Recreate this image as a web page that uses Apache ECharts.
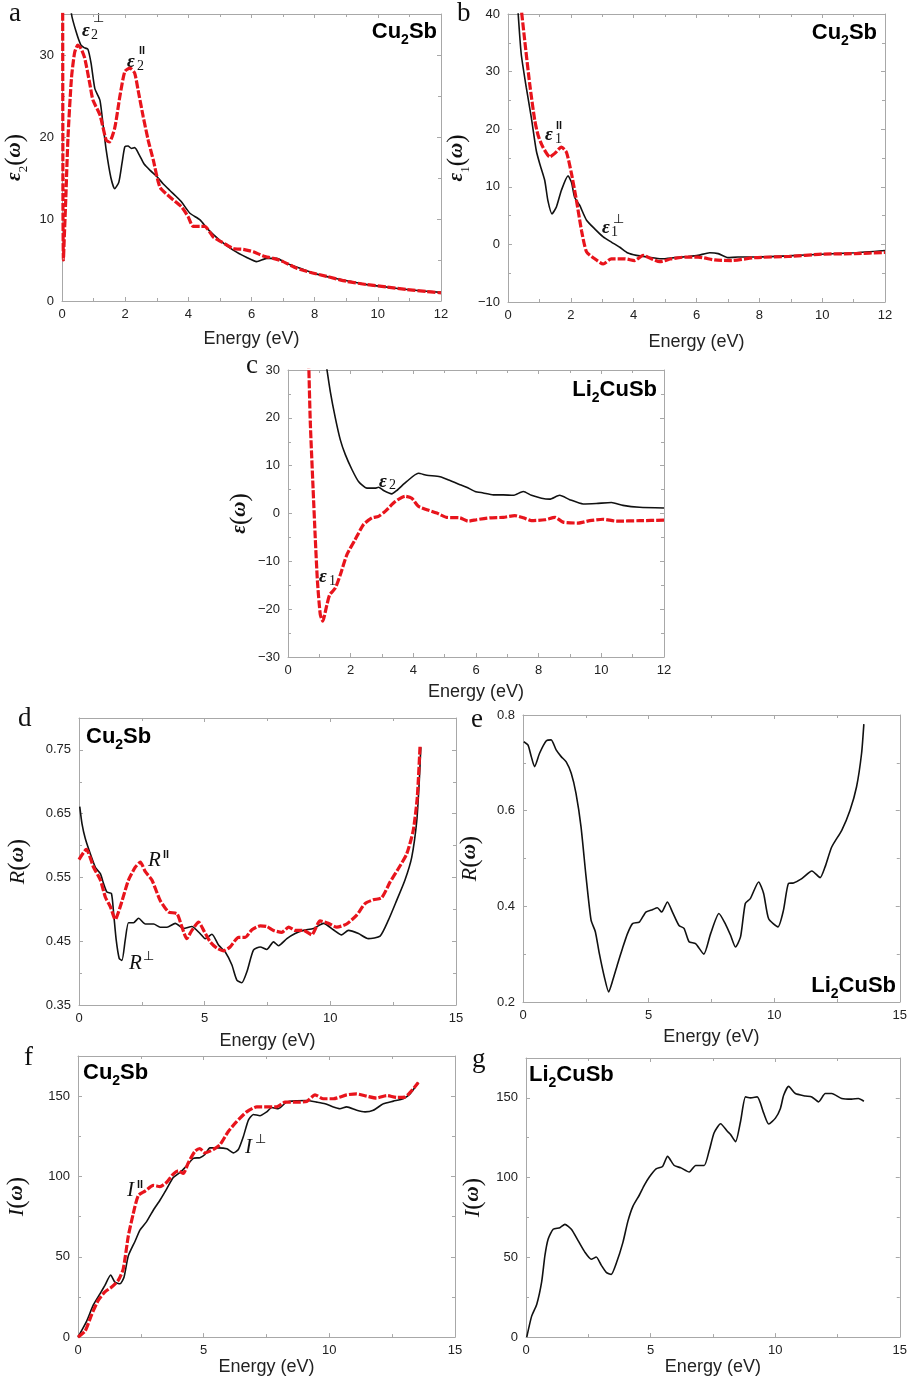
<!doctype html>
<meta charset="utf-8">
<style>
  html, body { margin: 0; background: #fff; }
  #chart { width: 910px; height: 1377px; }
</style>
<script src="https://cdn.jsdelivr.net/npm/echarts@6/dist/echarts.min.js"></script>
<div id="chart"></div>
<script>
  // [energy (eV), value]
  const eps2Perp = [[0.22,40],[0.3,35],[0.45,32.8],[0.6,31.2],[0.7,30.9],[0.82,30.7],[0.92,29],[1.04,25.9],[1.2,24.5],[1.3,21.5],[1.4,18.4],[1.55,15],[1.67,13.7],[1.8,14.5],[1.9,16.8],[1.99,18.8],[2.09,18.9],[2.2,18.6],[2.3,18.7],[2.45,17.8],[2.6,16.7],[2.8,15.9],[3.0,15.2],[3.2,14.3],[3.41,13.5],[3.6,12.8],[3.78,12.1],[4.05,10.7],[4.37,9.9],[4.63,8.7],[5.0,7.4],[5.42,6.2],[5.85,5.3],[6.16,4.8],[6.48,5.2],[6.8,5.2],[7.1,4.6],[7.54,4.0],[7.96,3.4],[8.6,2.8],[9.12,2.4],[9.65,2.0],[10.18,1.75],[10.7,1.5],[11.34,1.25],[12,1.05]]
  const eps2Par = [[0.02,40],[0.03,12],[0.045,5],[0.07,7.5],[0.12,12.5],[0.19,20],[0.3,27.2],[0.4,30.3],[0.5,31.2],[0.6,30.8],[0.72,29.6],[0.88,26.5],[0.98,24.5],[1.2,22.7],[1.4,19.6],[1.5,19.4],[1.67,21.1],[1.83,24.9],[1.99,28],[2.15,28.4],[2.3,27.8],[2.41,25.7],[2.57,22.5],[2.73,19.6],[2.89,17.2],[3.1,13.9],[3.41,12.7],[3.78,11.5],[3.99,10.3],[4.15,9.1],[4.37,9.1],[4.52,9.1],[4.79,7.8],[5.05,7.2],[5.42,6.4],[5.74,6.3],[6.06,6.0],[6.37,5.5],[6.69,5.2],[7.0,4.8],[7.43,4.0],[7.85,3.5],[8.38,3.0],[9.0,2.4],[9.65,2.0],[10.29,1.7],[10.92,1.4],[11.55,1.15],[12,1.0]]

  const eps1Perp = [[0.3,42],[0.42,33.1],[0.58,27.3],[0.74,22.1],[0.9,16.3],[1.01,14.0],[1.17,11.1],[1.27,7.6],[1.4,5.3],[1.54,6.5],[1.7,9.4],[1.91,11.9],[2.02,10.8],[2.12,8.2],[2.28,6.8],[2.5,4.2],[2.76,2.7],[3.03,1.3],[3.29,0.4],[3.56,-0.5],[3.82,-1.5],[4.09,-1.9],[4.46,-2.2],[4.88,-2.5],[5.31,-2.3],[5.73,-2.1],[6.05,-1.9],[6.42,-1.45],[6.69,-1.6],[7.0,-2.3],[7.32,-2.2],[7.86,-2.2],[8.92,-2.0],[9.98,-1.7],[11.04,-1.45],[12,-1.05]]
  const eps1Par = [[0.4,42],[0.53,35.5],[0.69,27.9],[0.85,21.6],[0.96,18.9],[1.11,16.9],[1.33,15.2],[1.49,15.8],[1.7,16.9],[1.86,16.0],[2.02,12.3],[2.18,7.6],[2.34,2.4],[2.5,-1.3],[2.76,-2.5],[3.03,-3.4],[3.29,-2.5],[3.72,-2.5],[4.03,-2.8],[4.3,-1.9],[4.56,-2.5],[4.83,-3.0],[5.2,-2.5],[5.63,-2.2],[6.05,-2.2],[6.58,-2.7],[7.11,-2.8],[7.86,-2.3],[8.92,-2.1],[9.98,-1.7],[11.04,-1.6],[12,-1.4]]

  const liEps2 = [[1.2,32],[1.35,25.5],[1.51,20.0],[1.67,15.4],[1.83,12.3],[2.04,9.2],[2.25,6.7],[2.52,5.3],[2.78,5.3],[2.89,5.5],[3.05,4.8],[3.31,4.1],[3.47,4.8],[3.79,6.7],[4.16,8.4],[4.43,8.0],[4.85,7.7],[5.17,6.9],[5.49,6.0],[5.7,5.5],[5.97,4.6],[6.23,4.3],[6.55,3.9],[6.87,3.9],[7.19,3.8],[7.51,4.6],[7.77,3.8],[8.09,3.2],[8.35,3.0],[8.67,3.8],[8.99,2.9],[9.42,2.0],[9.84,2.1],[10.32,2.3],[10.69,1.7],[11.22,1.3],[12,1.15]]
  const liEps1 = [[0.66,32],[0.71,19.3],[0.8,5.3],[0.87,-5.1],[0.94,-14.2],[1.03,-21.1],[1.11,-22.5],[1.22,-19.7],[1.33,-17.0],[1.51,-15.6],[1.67,-12.8],[1.88,-8.6],[2.14,-5.5],[2.41,-2.3],[2.68,-0.9],[2.89,-0.6],[3.1,0.45],[3.42,2.5],[3.74,3.6],[3.95,3.2],[4.16,1.5],[4.43,0.8],[4.75,0.1],[5.06,-0.8],[5.49,-0.9],[5.75,-1.6],[6.02,-1.3],[6.44,-0.9],[6.87,-0.8],[7.24,-0.45],[7.51,-0.9],[7.77,-1.5],[8.2,-1.3],[8.52,-0.8],[8.78,-1.8],[9.26,-2.0],[9.63,-1.5],[10.05,-1.2],[10.48,-1.6],[11.22,-1.5],[12,-1.4]]

  const reflPerp = [[0.03,0.661],[0.12,0.634],[0.25,0.611],[0.45,0.587],[0.65,0.566],[0.85,0.556],[0.98,0.540],[1.11,0.527],[1.29,0.525],[1.38,0.493],[1.48,0.452],[1.6,0.423],[1.71,0.420],[1.84,0.452],[1.97,0.479],[2.17,0.479],[2.37,0.486],[2.64,0.477],[2.97,0.477],[3.23,0.472],[3.5,0.472],[3.83,0.478],[4.16,0.470],[4.49,0.473],[4.82,0.462],[5.02,0.454],[5.29,0.461],[5.55,0.444],[5.82,0.433],[6.08,0.413],[6.28,0.389],[6.48,0.385],[6.68,0.402],[6.94,0.436],[7.21,0.441],[7.47,0.437],[7.74,0.449],[7.94,0.443],[8.27,0.454],[8.6,0.462],[8.93,0.467],[9.33,0.470],[9.73,0.478],[10.12,0.468],[10.45,0.460],[10.72,0.467],[11.12,0.462],[11.51,0.454],[11.98,0.458],[12.31,0.483],[12.64,0.514],[12.97,0.546],[13.24,0.582],[13.44,0.639],[13.54,0.702],[13.6,0.754]]
  const reflPar = [[0,0.578],[0.29,0.594],[0.58,0.566],[0.85,0.546],[1.05,0.519],[1.25,0.504],[1.44,0.484],[1.64,0.504],[1.97,0.546],[2.24,0.566],[2.44,0.574],[2.64,0.559],[2.9,0.546],[3.23,0.514],[3.56,0.496],[3.9,0.493],[4.09,0.473],[4.29,0.454],[4.49,0.467],[4.76,0.480],[4.96,0.467],[5.22,0.449],[5.49,0.439],[5.75,0.435],[6.01,0.441],[6.35,0.456],[6.61,0.456],[6.88,0.468],[7.21,0.474],[7.47,0.473],[7.74,0.467],[8.07,0.464],[8.34,0.472],[8.6,0.467],[8.93,0.467],[9.26,0.460],[9.59,0.482],[9.92,0.478],[10.26,0.472],[10.65,0.477],[11.05,0.491],[11.38,0.509],[11.71,0.515],[12.04,0.518],[12.38,0.543],[12.71,0.564],[13.04,0.587],[13.3,0.624],[13.46,0.676],[13.57,0.757]]

  const liRefl = [[0.03,0.744],[0.2,0.737],[0.33,0.713],[0.46,0.692],[0.66,0.720],[0.93,0.746],[1.12,0.748],[1.32,0.727],[1.52,0.713],[1.72,0.702],[1.92,0.678],[2.11,0.636],[2.31,0.566],[2.51,0.462],[2.71,0.371],[2.88,0.347],[3.04,0.301],[3.24,0.252],[3.41,0.221],[3.57,0.245],[3.77,0.280],[3.96,0.312],[4.16,0.343],[4.36,0.364],[4.63,0.367],[4.89,0.388],[5.15,0.393],[5.35,0.397],[5.52,0.388],[5.75,0.409],[5.95,0.388],[6.21,0.360],[6.41,0.354],[6.61,0.326],[6.87,0.322],[7.2,0.300],[7.47,0.343],[7.8,0.385],[8.06,0.363],[8.26,0.340],[8.46,0.315],[8.66,0.336],[8.85,0.406],[9.05,0.416],[9.38,0.451],[9.58,0.427],[9.78,0.374],[10.15,0.357],[10.37,0.392],[10.57,0.448],[10.77,0.449],[11.1,0.458],[11.5,0.474],[11.83,0.460],[12.03,0.483],[12.29,0.524],[12.69,0.559],[13.02,0.601],[13.28,0.650],[13.48,0.720],[13.57,0.781]]

  const lossPerp = [[0,0],[0.34,9.8],[0.61,20.0],[0.88,27.1],[1.07,32.2],[1.3,38.7],[1.47,34.2],[1.67,33.2],[1.83,37.3],[2.0,50.5],[2.27,59.7],[2.47,66.8],[2.73,71.9],[3.0,79.1],[3.26,85.2],[3.53,92.3],[3.79,99.4],[4.06,102.5],[4.32,106.6],[4.59,111.3],[4.85,111.7],[5.05,113.7],[5.25,117.8],[5.58,117.8],[5.92,117.2],[6.18,114.7],[6.38,116.8],[6.58,124.9],[6.78,135.1],[6.98,138.6],[7.24,137.8],[7.51,140.2],[7.71,142.9],[7.97,142.2],[8.3,146.3],[8.7,147.1],[9.1,147.3],[9.5,146.3],[9.83,145.3],[10.16,143.3],[10.42,142.2],[10.69,143.3],[11.09,141.2],[11.42,140.2],[11.75,141.2],[12.15,145.3],[12.55,146.9],[12.94,148.4],[13.21,151.4],[13.54,158.5]]
  const lossPar = [[0,0],[0.28,3.7],[0.54,13.9],[0.81,23.0],[1.07,28.1],[1.34,31.2],[1.6,35.3],[1.8,42.4],[2.0,62.8],[2.2,77.0],[2.4,88.2],[2.67,90.9],[3.0,94.4],[3.26,93.7],[3.53,96.4],[3.79,101.5],[3.99,103.5],[4.19,101.9],[4.39,108.6],[4.66,115.8],[4.85,117.4],[5.05,114.7],[5.38,116.8],[5.65,119.8],[5.98,128.0],[6.31,134.1],[6.71,140.2],[7.11,143.3],[7.51,143.3],[7.9,143.3],[8.24,146.3],[8.7,146.3],[9.1,146.7],[9.43,150.8],[9.76,148.4],[10.16,148.4],[10.69,150.8],[11.09,151.4],[11.49,150.0],[11.88,148.8],[12.28,150.4],[12.68,149.2],[13.01,149.4],[13.28,153.5],[13.54,158.5]]

  const liLoss = [[0.03,0],[0.23,13.3],[0.43,20.5],[0.63,34.8],[0.76,51.2],[0.89,61.5],[1.09,67.6],[1.36,68.6],[1.56,70.7],[1.82,67.6],[2.09,60.5],[2.36,53.3],[2.62,48.8],[2.82,50.2],[3.02,45.1],[3.22,40.6],[3.42,39.3],[3.62,46.1],[3.89,59.4],[4.09,72.7],[4.29,82.0],[4.55,89.1],[4.75,95.3],[4.95,100.4],[5.22,105.5],[5.48,107.0],[5.68,113.3],[5.95,107.6],[6.22,106.1],[6.55,103.5],[6.81,107.6],[7.15,107.6],[7.35,116.8],[7.55,128.1],[7.81,133.8],[8.08,129.1],[8.21,127.0],[8.41,122.5],[8.61,135.2],[8.81,150.6],[9.01,150.0],[9.28,150.6],[9.54,140.4],[9.74,133.6],[10.01,137.3],[10.21,143.4],[10.34,151.6],[10.54,157.2],[10.81,152.7],[11.21,151.2],[11.47,150.6],[11.74,147.5],[12.01,152.7],[12.27,152.7],[12.67,149.6],[13.07,149.2],[13.34,149.6],[13.56,147.9]]

  const SANS = 'Liberation Sans'
  const SERIF = 'Liberation Serif'
  const RED = '#e8141c'
  const FRAME = '#a8a8a8'

  const panels = [
    { grid: { left: 62, top: 14, width: 379, height: 287 }, x: [0, 12, 2], y: [0, 35, 10], xGap: 29, yGap: 32,
      yName: '{g|ε}{s|2}{p|(}{g|ω}{p|)}', black: eps2Perp, red: eps2Par },
    { grid: { left: 508, top: 14, width: 377, height: 288 }, x: [0, 12, 2], y: [-10, 40, 10], xGap: 31, yGap: 36,
      yName: '{g|ε}{s|1}{p|(}{g|ω}{p|)}', black: eps1Perp, red: eps1Par },
    { grid: { left: 288, top: 370, width: 376, height: 287 }, x: [0, 12, 2], y: [-30, 30, 10], xGap: 26, yGap: 33,
      yName: '{g|ε}{p|(}{g|ω}{p|)}', black: liEps2, red: liEps1 },
    { grid: { left: 79, top: 718, width: 377, height: 287 }, x: [0, 15, 5], y: [0.35, 0.8, 0.1], xGap: 27, yGap: 46,
      yName: '{r|R}{p|(}{g|ω}{p|)}', black: reflPerp, red: reflPar, fmt: v => v.toFixed(2) },
    { grid: { left: 523, top: 715, width: 379, height: 287 }, x: [0, 15, 5], y: [0.2, 0.8, 0.2], xGap: 26, yGap: 38,
      yName: '{r|R}{p|(}{g|ω}{p|)}', black: liRefl, fmt: v => v.toFixed(1) },
    { grid: { left: 78, top: 1056, width: 377, height: 287 }, x: [0, 15, 5], y: [0, 175, 50], xGap: 20, yGap: 46,
      yName: '{r|I}{p|(}{g|ω}{p|)}', black: lossPerp, red: lossPar },
    { grid: { left: 526, top: 1058, width: 376, height: 285 }, x: [0, 15, 5], y: [0, 175, 50], xGap: 19, yGap: 38,
      yName: '{r|I}{p|(}{g|ω}{p|)}', black: liLoss },
  ]

  const nameRich = {
    g: { fontFamily: SERIF, fontStyle: 'italic', fontWeight: 'bold', fontSize: 21, lineHeight: 30, color: '#111' },
    r: { fontFamily: SERIF, fontStyle: 'italic', fontSize: 22, lineHeight: 30, color: '#111' },
    s: { fontFamily: SERIF, fontSize: 13, lineHeight: 13, verticalAlign: 'bottom', color: '#111' },
    p: { fontFamily: SERIF, fontSize: 25, lineHeight: 30, color: '#111' },
  }

  function frameAxis(gridIndex, range, position, extra) {
    return Object.assign({
      type: 'value', gridIndex, position, min: range[0], max: range[1], interval: range[2],
      axisLine: { show: true, onZero: false, lineStyle: { color: FRAME, width: 1 } },
      axisTick: { show: true, inside: true, length: 4, lineStyle: { color: FRAME } },
      minorTick: { show: true, splitNumber: 2, length: 3, lineStyle: { color: FRAME } },
      axisLabel: { show: false },
      splitLine: { show: false },
    }, extra)
  }

  // label only the ticks that sit on min + k*interval, with a real minus sign
  function tickLabel(range, fmt) {
    return v => {
      const k = (v - range[0]) / range[2]
      if (Math.abs(k - Math.round(k)) > 1e-6) return ''
      return (fmt ? fmt(v) : String(v)).replace('-', '\u2212')
    }
  }

  const xAxis = [], yAxis = [], series = []
  panels.forEach((p, i) => {
    xAxis.push(frameAxis(i, p.x, 'bottom', {
      name: 'Energy (eV)', nameLocation: 'middle', nameGap: p.xGap,
      nameTextStyle: { fontFamily: SANS, fontSize: 18, color: '#222' },
      axisLabel: { show: true, margin: 7, fontFamily: SANS, fontSize: 13, color: '#222' },
    }))
    xAxis.push(frameAxis(i, p.x, 'top'))
    yAxis.push(frameAxis(i, p.y, 'left', {
      name: p.yName, nameLocation: 'middle', nameGap: p.yGap, nameRotate: 90,
      nameTextStyle: { rich: nameRich },
      axisLabel: { show: true, margin: 8, fontFamily: SANS, fontSize: 13, color: '#222',
        showMaxLabel: true, formatter: tickLabel(p.y, p.fmt) },
    }))
    yAxis.push(frameAxis(i, p.y, 'right'))
    series.push({
      type: 'line', xAxisIndex: 2 * i, yAxisIndex: 2 * i, data: p.black, showSymbol: false, smooth: 0.2,
      lineStyle: { color: '#111', width: 1.6 }, silent: true,
    })
    if (p.red) series.push({
      type: 'line', xAxisIndex: 2 * i, yAxisIndex: 2 * i, data: p.red, showSymbol: false, smooth: 0.2,
      lineStyle: { color: RED, width: 3.2, type: [8, 2] }, silent: true,
    })
  })

  // text placed on the figure
  const graphic = []
  function txt(x, y, text, font, align) {
    graphic.push({ type: 'text', x, y, silent: true,
      style: { text, font, fill: '#111', align: align || 'left', textAlign: align || 'left', verticalAlign: 'middle', textVerticalAlign: 'middle' } })
  }
  const compRich = {
    b: { fontFamily: SANS, fontWeight: 'bold', fontSize: 22, lineHeight: 30, color: '#111' },
    s: { fontFamily: SANS, fontWeight: 'bold', fontSize: 14, lineHeight: 14, verticalAlign: 'bottom', color: '#111' },
  }
  function compound(x, y, text, align) {
    graphic.push({ type: 'text', x, y, silent: true,
      style: { text, rich: compRich, align, textAlign: align, verticalAlign: 'middle', textVerticalAlign: 'middle' } })
  }
  const CU2SB = '{b|Cu}{s|2}{b|Sb}'
  const LI2CUSB = '{b|Li}{s|2}{b|CuSb}'
  compound(437, 32, CU2SB, 'right')
  compound(877, 33, CU2SB, 'right')
  compound(657, 390, LI2CUSB, 'right')
  compound(86, 737, CU2SB, 'left')
  compound(896, 986, LI2CUSB, 'right')
  compound(83, 1073, CU2SB, 'left')
  compound(529, 1075, LI2CUSB, 'left')

  const LET = '27px ' + SERIF
  txt(9, 14, 'a', LET); txt(457, 14, 'b', LET); txt(246, 366, 'c', LET)
  txt(18, 719, 'd', LET); txt(471, 720, 'e', LET); txt(24, 1058, 'f', LET); txt(472, 1060, 'g', LET)

  // curve labels: main glyph, subscript, superscript
  const EPS = 'italic bold 19px ' + SERIF
  const ITAL = 'italic 21px ' + SERIF
  const SUB = '14px ' + SERIF
  const PERP = '13px DejaVu Sans'
  const PAR = 'bold 11px ' + SANS
  txt(82, 31, 'ε', EPS); txt(91, 35, '2', SUB); txt(93, 19, '⊥', PERP)
  txt(127, 62, 'ε', EPS); txt(137, 66, '2', SUB); txt(139, 51, 'll', PAR)
  txt(545, 135, 'ε', EPS); txt(555, 139, '1', SUB); txt(556, 126, 'll', PAR)
  txt(602, 228, 'ε', EPS); txt(611, 232, '1', SUB); txt(613, 220, '⊥', PERP)
  txt(379, 482, 'ε', EPS); txt(389, 485, '2', SUB)
  txt(319, 577, 'ε', EPS); txt(329, 581, '1', SUB)
  txt(148, 860, 'R', ITAL); txt(163, 855, 'll', PAR)
  txt(129, 963, 'R', ITAL); txt(143, 957, '⊥', PERP)
  txt(127, 1190, 'I', ITAL); txt(137, 1185, 'll', PAR)
  txt(245, 1147, 'I', ITAL); txt(255, 1140, '⊥', PERP)

  const chart = echarts.init(document.getElementById('chart'))
  chart.setOption({
    animation: false,
    backgroundColor: '#fff',
    grid: panels.map(p => p.grid),
    xAxis, yAxis, series, graphic,
  })
</script>
